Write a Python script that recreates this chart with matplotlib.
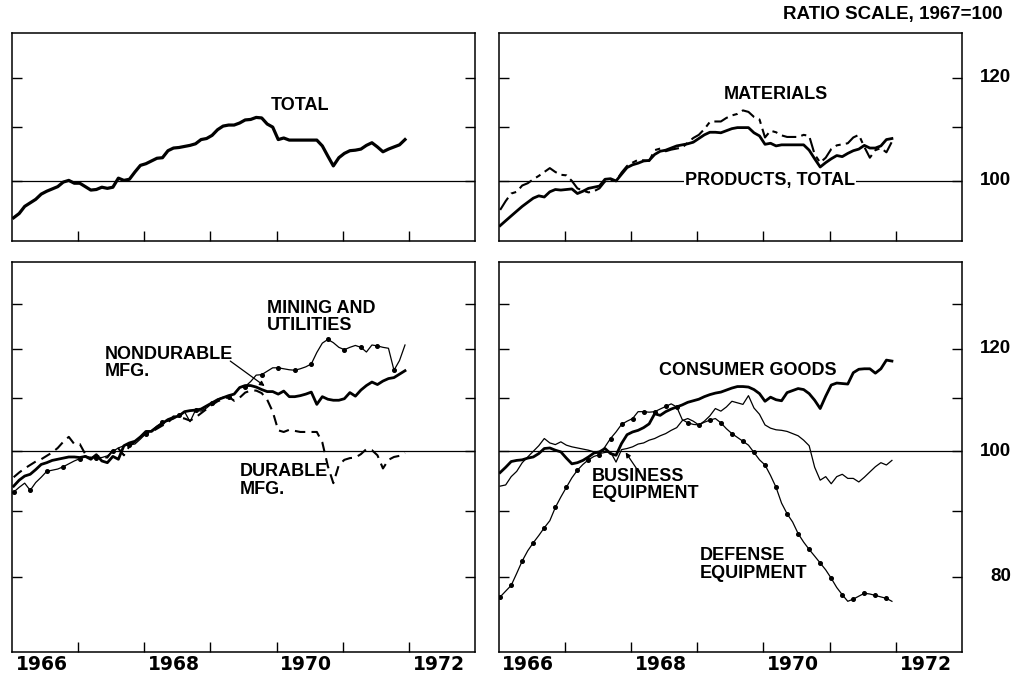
import numpy as np
import matplotlib
matplotlib.use("Agg")
import matplotlib.pyplot as plt
from matplotlib import transforms
from matplotlib.ticker import FixedLocator, NullLocator, NullFormatter

# ---------------- data (monthly index, 1967 = 100), Jan 1966 .. Dec 1971 ----------------
total = [93.7, 94.4, 95.6, 96.2, 96.8, 97.7, 98.2, 98.6, 99.0, 99.8, 100.1, 99.6,
         99.6, 99.0, 98.4, 98.5, 98.9, 98.7, 98.9, 100.5, 100.1, 100.3, 101.6, 102.8,
         103.1, 103.6, 104.1, 104.2, 105.5, 106.0, 106.1, 106.3, 106.5, 106.8, 107.6, 107.8,
         108.4, 109.5, 110.2, 110.4, 110.4, 110.8, 111.4, 111.5, 111.9, 111.8, 110.6, 110.0,
         107.6, 107.9, 107.5, 107.5, 107.5, 107.5, 107.5, 107.5, 106.4, 104.5, 102.7, 104.2,
         105.0, 105.5, 105.6, 105.8, 106.5, 107.0, 106.2, 105.3, 105.8, 106.2, 106.6, 107.6]

products_total = [92.4, 93.2, 94.0, 94.8, 95.6, 96.3, 97.0, 97.4, 97.2, 98.1, 98.5, 98.4,
                  98.5, 98.6, 97.8, 98.2, 98.7, 98.9, 99.1, 100.3, 100.4, 100.0, 101.2, 102.4,
                  102.9, 103.2, 103.6, 103.7, 104.8, 105.4, 105.6, 106.0, 106.4, 106.6, 106.8, 107.1,
                  107.8, 108.5, 109.0, 109.0, 108.9, 109.3, 109.7, 109.9, 109.9, 109.9, 108.9, 108.3,
                  106.7, 106.9, 106.4, 106.6, 106.6, 106.6, 106.6, 106.6, 105.6, 104.0, 102.5, 103.3,
                  104.0, 104.6, 104.4, 105.0, 105.5, 105.8, 106.5, 106.0, 106.0, 106.4, 107.6, 107.8]

materials = [95.0, 96.5, 97.8, 98.1, 99.2, 99.6, 100.3, 100.9, 101.6, 102.3, 101.6, 101.1,
             101.0, 100.0, 98.7, 98.3, 98.0, 98.2, 98.7, 99.9, 100.2, 100.0, 101.5, 102.7,
             103.3, 103.8, 103.7, 103.6, 105.6, 105.9, 105.4, 105.7, 105.9, 106.1, 107.0, 107.9,
             108.5, 109.6, 111.0, 111.1, 111.1, 111.8, 112.3, 112.6, 113.3, 113.0, 112.0, 111.5,
             108.0, 109.3, 109.0, 108.4, 108.1, 108.1, 108.1, 108.5, 108.3, 104.8, 103.3, 104.2,
             105.8, 106.5, 106.7, 106.9, 108.0, 108.5, 106.2, 104.2, 105.6, 106.0, 105.2, 107.2]

nondurable = [94.0, 95.0, 95.7, 96.0, 96.8, 97.7, 98.0, 98.4, 98.6, 98.8, 99.0, 99.0,
              98.9, 99.1, 98.6, 99.4, 98.3, 98.0, 99.1, 98.6, 101.0, 101.5, 101.8, 102.6,
              103.6, 103.6, 104.4, 105.1, 105.8, 106.2, 106.5, 107.3, 107.5, 107.6, 107.8, 108.4,
              109.0, 109.6, 110.0, 110.4, 110.7, 112.0, 112.4, 112.4, 112.1, 111.6, 111.2, 111.2,
              110.7, 111.3, 110.2, 110.2, 110.4, 110.7, 111.1, 108.7, 110.2, 109.7, 109.5, 109.5,
              109.8, 111.0, 110.3, 111.5, 112.4, 113.1, 112.6, 113.3, 113.8, 114.0, 114.7, 115.4]

mining_utilities = [93.0, 93.8, 94.5, 93.3, 94.6, 95.5, 96.5, 96.7, 96.9, 97.3, 97.8, 98.3,
                    98.7, 99.2, 98.9, 98.9, 98.9, 99.2, 100.0, 100.6, 101.0, 101.2, 101.3, 102.2,
                    103.2, 103.8, 104.6, 105.3, 105.5, 105.9, 106.6, 107.3, 105.4, 107.6, 107.4, 108.0,
                    108.9, 109.7, 110.1, 110.1, 110.8, 112.0, 112.2, 113.2, 114.5, 114.6, 115.3, 116.0,
                    116.0, 115.8, 115.6, 115.5, 115.8, 116.2, 116.8, 119.2, 121.2, 122.0, 121.3, 120.3,
                    119.8, 120.3, 120.7, 120.3, 119.3, 120.8, 120.6, 120.3, 120.1, 115.5, 117.5, 120.8]

durable = [95.5, 96.3, 97.0, 97.6, 98.2, 98.6, 99.2, 99.8, 100.6, 101.7, 102.6, 101.3,
           101.3, 99.5, 98.8, 99.2, 99.0, 98.9, 100.2, 100.5, 99.3, 100.9, 101.7, 102.6,
           103.2, 103.5, 104.1, 104.7, 105.2, 106.4, 106.2, 106.0, 105.6, 106.2, 107.0, 107.8,
           108.6, 109.3, 109.7, 110.2, 109.4, 110.0, 111.0, 111.4, 111.4, 110.9, 109.6, 107.3,
           103.8, 103.5, 103.9, 103.7, 103.5, 103.5, 103.5, 103.5, 101.6, 97.4, 94.5, 97.6,
           98.5, 98.8, 98.9, 99.5, 100.4, 100.2, 99.3, 97.0, 98.5, 99.0, 99.2, 99.7]

consumer_goods = [96.3, 97.2, 98.2, 98.4, 98.5, 98.8, 99.0, 99.6, 100.5, 100.6, 100.2, 99.9,
                  98.8, 97.8, 98.0, 98.4, 99.0, 99.7, 99.9, 100.5, 99.6, 99.3, 101.4, 103.0,
                  103.5, 103.8, 104.3, 105.0, 106.9, 106.6, 107.3, 107.8, 108.2, 108.6, 109.1, 109.4,
                  109.7, 110.2, 110.6, 110.9, 111.1, 111.5, 111.9, 112.2, 112.2, 112.1, 111.6, 110.8,
                  109.3, 110.1, 109.6, 109.4, 111.0, 111.4, 111.8, 111.6, 110.8, 109.5, 107.9, 110.3,
                  112.5, 112.9, 112.8, 112.7, 115.0, 115.7, 115.8, 115.8, 114.9, 115.8, 117.6, 117.4]

business_equipment = [94.0, 94.2, 95.6, 96.5, 98.0, 99.0, 100.0, 101.0, 102.3, 101.5, 101.2, 101.7,
                      101.1, 100.8, 100.6, 100.4, 100.2, 99.9, 99.6, 99.8, 99.9, 98.1, 100.3, 100.5,
                      100.8, 101.3, 101.5, 102.0, 102.3, 102.8, 103.2, 103.8, 104.3, 105.6, 106.0, 105.5,
                      104.8, 105.5, 106.5, 107.9, 107.4, 108.2, 109.3, 109.0, 108.7, 110.4, 108.0, 106.8,
                      104.8, 104.2, 103.9, 103.8, 103.6, 103.2, 102.8, 102.0, 101.0, 97.2, 95.0, 95.6,
                      94.4, 95.6, 96.0, 95.3, 95.3, 94.7, 95.5, 96.4, 97.3, 98.0, 97.6, 98.4]

defense_equipment = [77.2, 78.0, 78.8, 80.5, 82.3, 83.8, 85.0, 86.1, 87.3, 88.4, 90.5, 92.2,
                     93.8, 95.4, 96.7, 97.7, 98.5, 99.1, 99.4, 100.8, 102.3, 103.5, 104.9, 105.5,
                     106.0, 107.3, 107.3, 107.2, 107.3, 107.8, 108.3, 108.8, 108.2, 105.8, 105.2, 104.9,
                     104.8, 105.3, 105.7, 106.0, 105.2, 104.1, 103.2, 102.5, 101.8, 101.1, 99.8, 98.5,
                     97.6, 95.8, 93.8, 91.2, 89.5, 88.2, 86.4, 85.1, 84.0, 83.0, 82.0, 81.0,
                     79.8, 78.5, 77.5, 76.6, 76.9, 77.3, 77.7, 77.6, 77.4, 77.2, 77.0, 76.6]

start_year = 1966
year_ticks = [1967, 1968, 1969, 1970, 1971, 1972]
year_labels = ["1966", "1968", "1970", "1972"]
top_yticks = [100, 110, 120]
bottom_yticks = [80, 90, 100, 110, 120, 130]
top_right_labels = [100, 120]
bottom_right_labels = [80, 100, 120]

# ---------------- figure ----------------
W, H = 1017, 674
fig = plt.figure(figsize=(W / 100, H / 100), dpi=100)
fig.patch.set_facecolor("white")

LABEL_FONT = ["Liberation Sans", "DejaVu Sans"]
YEAR_FONT = ["DejaVu Sans"]


def months(n):
    return start_year + (np.arange(n) + 0.3) / 12.0


def make_ax(left_px, top_px, right_px, bottom_px, ylim, yticks, year_text):
    ax = fig.add_axes([left_px / W, 1 - bottom_px / H,
                       (right_px - left_px) / W, (bottom_px - top_px) / H])
    ax.set_yscale("log")
    ax.set_xlim(1966, 1973)
    ax.set_ylim(*ylim)
    ax.yaxis.set_major_locator(FixedLocator(yticks))
    ax.yaxis.set_minor_locator(NullLocator())
    ax.yaxis.set_major_formatter(NullFormatter())
    ax.yaxis.set_minor_formatter(NullFormatter())
    ax.tick_params(axis="y", which="major", direction="in", length=7.5, width=1.0,
                   left=True, right=True, labelleft=False, labelright=False)
    ax.set_xticks(year_ticks)
    ax.set_xticklabels([])
    ax.tick_params(axis="x", which="major", direction="in", length=7.5, width=1.0,
                   bottom=True, top=False)
    if year_text:
        ax.set_xticks([int(y) + 0.45 for y in year_labels], minor=True)
        ax.set_xticklabels(year_labels, minor=True, fontfamily=YEAR_FONT,
                           fontweight="bold", fontsize=13.5)
        ax.tick_params(axis="x", which="minor", length=0, pad=2)
    else:
        ax.xaxis.set_minor_locator(NullLocator())
    for s in ax.spines.values():
        s.set_linewidth(1.1)
    ax.axhline(100, color="black", lw=0.9, zorder=1)
    return ax


ax_tl = make_ax(12, 32.7, 475, 240.5, (90, 130), top_yticks, False)
ax_tr = make_ax(498.5, 32.7, 962, 240.5, (90, 130), top_yticks, False)
ax_bl = make_ax(12, 262, 475, 652, (70, 140), bottom_yticks, True)
ax_br = make_ax(498.5, 262, 962, 652, (70, 140), bottom_yticks, True)

lab = dict(fontfamily=LABEL_FONT, fontweight="bold", fontsize=13, color="black",
           linespacing=1.05, zorder=6)

# ---- top left ----
ax_tl.plot(months(len(total)), total, color="black", lw=2.3, solid_joinstyle="round", zorder=3)
ax_tl.text(1970.35, 114.3, "TOTAL", ha="center", va="center", **lab)

# ---- top right ----
ax_tr.plot(months(len(materials)), materials, color="black", lw=1.5,
           linestyle=(0, (7, 2.5, 2.5, 2.5)), zorder=3)
ax_tr.plot(months(len(products_total)), products_total, color="black", lw=2.0,
           solid_joinstyle="round", zorder=4)
ax_tr.text(1970.19, 116.6, "MATERIALS", ha="center", va="center", **lab)
ax_tr.text(1970.10, 100.1, "PRODUCTS, TOTAL", ha="center", va="center",
           bbox=dict(facecolor="white", edgecolor="none", pad=1.0), **lab)

# ---- bottom left ----
ax_bl.plot(months(len(durable)), durable, color="black", lw=1.5,
           linestyle=(0, (5, 3)), zorder=3)
ax_bl.plot(months(len(mining_utilities)), mining_utilities, color="black", lw=0.9,
           marker="o", markersize=2.6, markevery=3, zorder=3)
ax_bl.plot(months(len(nondurable)), nondurable, color="black", lw=2.0,
           solid_joinstyle="round", zorder=4)
ax_bl.text(1969.85, 127.0, "MINING AND\nUTILITIES", ha="left", va="center", **lab)
ax_bl.text(1967.40, 117.0, "NONDURABLE\nMFG.", ha="left", va="center", **lab)
ax_bl.text(1969.44, 95.0, "DURABLE\nMFG.", ha="left", va="center", **lab)
ax_bl.annotate("", xy=(1969.82, 112.3), xytext=(1969.30, 117.4),
               arrowprops=dict(arrowstyle="-|>", color="black", lw=0.9,
                               mutation_scale=7, shrinkA=0, shrinkB=0))

# ---- bottom right ----
ax_br.plot(months(len(defense_equipment)), defense_equipment, color="black", lw=0.9,
           marker="o", markersize=2.6, markevery=2, zorder=3)
ax_br.plot(months(len(business_equipment)), business_equipment, color="black", lw=0.9,
           zorder=3)
ax_br.plot(months(len(consumer_goods)), consumer_goods, color="black", lw=2.0,
           solid_joinstyle="round", zorder=4)
ax_br.text(1969.77, 115.5, "CONSUMER GOODS", ha="center", va="center", **lab)
ax_br.text(1967.41, 94.2, "BUSINESS\nEQUIPMENT", ha="left", va="center", **lab)
ax_br.text(1969.04, 81.8, "DEFENSE\nEQUIPMENT", ha="left", va="center", **lab)
ax_br.annotate("", xy=(1967.92, 99.8), xytext=(1968.12, 96.4),
               arrowprops=dict(arrowstyle="-|>", color="black", lw=0.9,
                               mutation_scale=7, shrinkA=0, shrinkB=0))

# ---- right-hand scale labels ----
num = dict(fontfamily=LABEL_FONT, fontweight="bold", fontsize=13.5, ha="right", va="center")
for ax, vals in ((ax_tr, top_right_labels), (ax_br, bottom_right_labels)):
    tr = transforms.blended_transform_factory(fig.transFigure, ax.transData)
    for v in vals:
        ax.text(1011 / W, v, str(v), transform=tr, clip_on=False, **num)

fig.text(1003 / W, 1 - 15 / H, "RATIO SCALE, 1967=100", ha="right", va="center",
         fontfamily=LABEL_FONT, fontweight="bold", fontsize=13.5)

fig.savefig("out.png", dpi=100, facecolor="white")
